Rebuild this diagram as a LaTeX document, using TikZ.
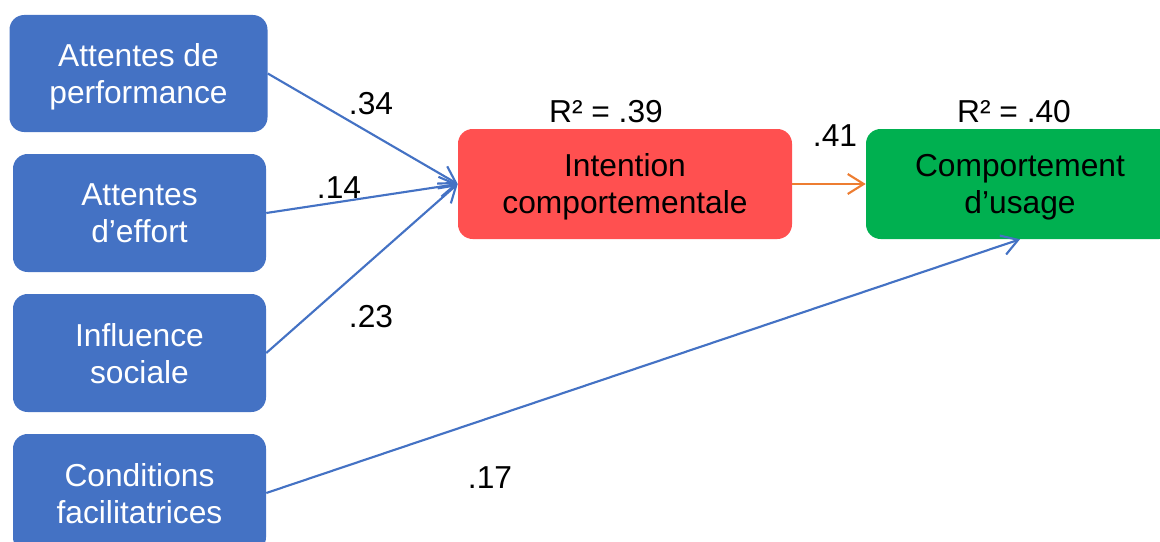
\documentclass[tikz,border=0pt]{standalone}
\usepackage{fontspec}
\setmainfont{Liberation Sans}
\usepackage{tikz}
\usetikzlibrary{arrows.meta}
\definecolor{boxblue}{HTML}{4472C4}
\definecolor{boxred}{HTML}{FF5050}
\definecolor{boxgreen}{HTML}{00B050}
\definecolor{arrorange}{HTML}{ED7D31}
\tikzstyle{invis} = [draw=none, inner sep=0pt]
\tikzstyle{factor} = [draw=none, fill=boxblue, text=white, rounded corners=11pt, align=center, inner sep=0pt, text depth=0pt, minimum width=189.75pt, minimum height=88.5pt]
\tikzstyle{target} = [draw=none, rounded corners=11pt, align=center, inner sep=0pt, text depth=0pt, minimum height=82.5pt]
\tikzstyle{path} = [draw=boxblue, line width=1.6pt, -{Straight Barb[length=12pt,width=15pt]}]

\begin{document}
\begin{tikzpicture}[x=0.75pt,y=-0.75pt,font=\fontsize{23.8}{27.75}\selectfont]

    \useasboundingbox (0,0) rectangle (1160,542);
    \clip (0,0) rectangle (1160,542);

    \node[factor, minimum width=193.5pt, minimum height=87.75pt] at (138.5,73.5) (perf) [] {Attentes de\\performance};
    \node[factor] at (139.5,213) (effort) [] {Attentes\\d’effort};
    \node[factor] at (139.5,353) (social) [] {Influence\\sociale};
    \node[factor] at (139.5,493) (cond) [] {Conditions\\facilitatrices};

    %=====================

    \node[target, fill=boxred, minimum width=250.5pt] at (625,184) (intent) [] {Intention\\comportementale};
    \node[target, fill=boxgreen, minimum width=231pt] at (1020,184) (usage) [] {Comportement\\d’usage};

    \node[invis] at (606,112) (r1) [] {R² = .39};
    \node[invis] at (1014,112) (r2) [] {R² = .40};

    %=====================

    \path
    (perf.east) edge [path] node {} (intent.west)
    (effort.east) edge [path] node {} (intent.west)
    (social.east) edge [path] node {} (intent.west)
    (cond.east) edge [path] node {} (usage.south)
    (intent.east) edge [path, draw=arrorange] node {} (usage.west);

    \node[invis] at (371,104) (w1) [] {.34};
    \node[invis] at (339,188) (w2) [] {.14};
    \node[invis] at (371,317) (w3) [] {.23};
    \node[invis] at (490,478) (w4) [] {.17};
    \node[invis] at (835,136) (w5) [] {.41};

\end{tikzpicture}
\end{document}
